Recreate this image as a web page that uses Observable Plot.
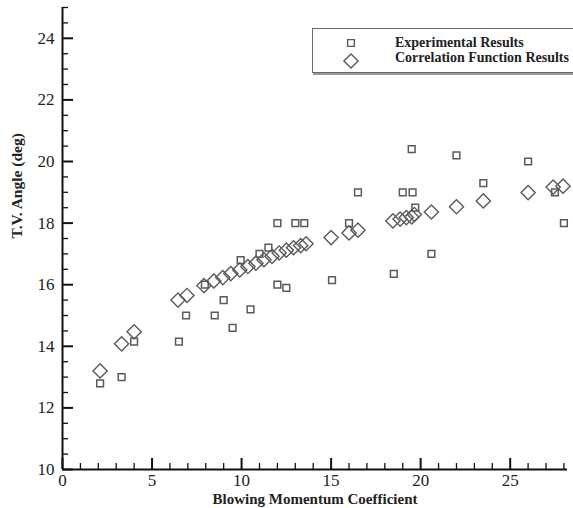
<!DOCTYPE html>
<html>
<head>
<meta charset="utf-8">
<script src="https://cdn.jsdelivr.net/npm/d3@7"></script>
<script src="https://cdn.jsdelivr.net/npm/@observablehq/plot@0.6"></script>
<style>
  html, body { margin: 0; padding: 0; background: #fff; }
  #wrap { position: relative; width: 573px; height: 508px; overflow: hidden; }
  #wrap svg text { font-family: "Liberation Serif", "Times New Roman", serif; }
  #legend {
    position: absolute; left: 312px; top: 28px; width: 280px; height: 43px;
    border: 1px solid #6a6a6a; box-shadow: 1px 2px 0 #9a9a9a; background: #fff;
    font-family: "Liberation Serif", "Times New Roman", serif; font-weight: bold; font-size: 14px; color: #222;
  }
  #legend .row { position: absolute; left: 0; height: 16px; line-height: 16px; }
  #legend svg { position: absolute; }
  #legend span { position: absolute; left: 82px; white-space: nowrap; }
</style>
</head>
<body>
<div id="wrap">
  <div id="legend"></div>
</div>
<script>
// ---- data ----
const expX = [2.1, 3.3, 4.0, 6.5, 6.9, 7.95, 8.5, 9.0, 9.5, 9.95, 10.5, 11.0, 11.5, 12.0, 12.0, 12.5, 13.0, 13.5, 15.05, 16.0, 16.5, 18.5, 19.0, 19.5, 19.55, 19.7, 20.6, 22.0, 23.5, 26.0, 27.5, 28.0];
const expY = [12.8, 13.0, 14.15, 14.15, 15.0, 16.0, 15.0, 15.5, 14.6, 16.8, 15.2, 17.0, 17.2, 18.0, 16.0, 15.9, 18.0, 18.0, 16.15, 18.0, 19.0, 16.35, 19.0, 20.4, 19.0, 18.5, 17.0, 20.2, 19.3, 20.0, 19.0, 18.0];

const corX = [2.1, 3.3, 4.0, 6.45, 6.95, 7.9, 8.45, 8.95, 9.4, 9.9, 10.35, 10.8, 11.25, 11.7, 12.1, 12.5, 12.9, 13.3, 13.6, 15.0, 16.0, 16.5, 18.45, 18.85, 19.2, 19.5, 19.65, 20.6, 22.0, 23.5, 26.0, 27.4, 27.95];
const corY = [13.2, 14.08, 14.47, 15.5, 15.65, 15.97, 16.12, 16.23, 16.36, 16.48, 16.59, 16.7, 16.81, 16.92, 17.03, 17.12, 17.2, 17.27, 17.33, 17.53, 17.68, 17.77, 18.07, 18.13, 18.18, 18.2, 18.28, 18.36, 18.53, 18.72, 18.99, 19.17, 19.2];

const xTicks = [0, 5, 10, 15, 20, 25];
const yTicks = [10, 12, 14, 16, 18, 20, 22, 24];
const xTitle = "Blowing Momentum Coefficient";
const yTitle = "T.V. Angle (deg)";
const seriesNames = ["Experimental Results", "Correlation Function Results"];

// ---- build ----
const experimental = expX.map((x, i) => ({x, y: expY[i]}));
const correlation = corX.map((x, i) => ({x, y: corY[i]}));
const xMinor = d3.range(0, 29, 1).filter(v => !xTicks.includes(v));
const yMinor = d3.range(10, 25.01, 0.5).filter(v => !yTicks.includes(v));

const W = 573, H = 508;
const mT = 7, mB = 39, mL = 62, mR = 6;
const plotW = W - mL - mR, plotH = H - mT - mB;
const stroke = "#5a5a5a";
const ink = "#222";

const chart = Plot.plot({
  width: W, height: H,
  marginTop: mT, marginBottom: mB, marginLeft: mL, marginRight: mR,
  x: {domain: [0, 28.2]},
  y: {domain: [10, 25]},
  style: {fontFamily: "'Liberation Serif', serif", fontSize: "17px", color: ink, background: "#fff"},
  marks: [
    Plot.axisX(xTicks, {tickSize: 0, tickPadding: 4, label: null, fontSize: 17}),
    Plot.axisY(yTicks, {tickSize: 0, tickPadding: 8, label: null, fontSize: 17}),
    Plot.tickX(xMinor, {x: d => d, insetTop: plotH - 6, stroke: "#111", strokeWidth: 1.3}),
    Plot.tickX(xTicks, {x: d => d, insetTop: plotH - 11, stroke: "#111", strokeWidth: 2}),
    Plot.tickY(yMinor, {y: d => d, insetRight: plotW - 6, stroke: "#111", strokeWidth: 1.3}),
    Plot.tickY(yTicks, {y: d => d, insetRight: plotW - 11, stroke: "#111", strokeWidth: 2}),
    Plot.ruleY([10], {stroke: "#111", strokeWidth: 2}),
    Plot.ruleX([0], {stroke: "#111", strokeWidth: 2}),
    Plot.dot(experimental, {x: "x", y: "y", symbol: "square", r: 3.8, stroke, strokeWidth: 1.5, fill: "none"}),
    Plot.dot(correlation, {x: "x", y: "y", symbol: "diamond2", r: 6.4, stroke, strokeWidth: 1.4, fill: "none"}),
    Plot.text([xTitle], {text: d => d, frameAnchor: "bottom", lineAnchor: "bottom", dy: 34, fontWeight: "bold", fontSize: 15, fill: ink}),
    Plot.text([yTitle], {text: d => d, frameAnchor: "left", lineAnchor: "middle", dx: -45, rotate: -90, fontWeight: "bold", fontSize: 15.5, fill: ink})
  ]
});
document.getElementById("wrap").prepend(chart);

// ---- legend ----
const leg = document.getElementById("legend");
const rs = [3.8, 6.4];
const tops = [6, 21];
seriesNames.forEach((name, i) => {
  const row = document.createElement("div");
  row.className = "row";
  row.style.top = tops[i] + "px";
  const s = d3.create("svg").attr("width", 20).attr("height", 20)
    .style("top", (i === 0 ? -2 : 1) + "px").style("left", "28px");
  const sym = i === 0 ? d3.symbolSquare : d3.symbolDiamond2;
  s.append("path").attr("transform", "translate(10,10)")
    .attr("d", d3.symbol(sym, rs[i] * rs[i] * Math.PI)())
    .attr("fill", "none").attr("stroke", stroke).attr("stroke-width", 1.4);
  row.appendChild(s.node());
  const t = document.createElement("span");
  t.textContent = name;
  row.appendChild(t);
  leg.appendChild(row);
});
</script>
</body>
</html>
